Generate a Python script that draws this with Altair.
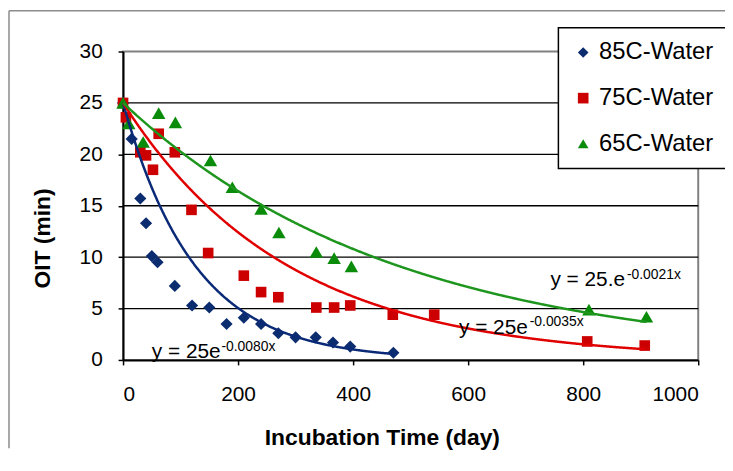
import altair as alt
import pandas as pd

# ---- data ----
series_names = ["85C-Water", "75C-Water", "65C-Water"]
marker_colors = ["#0c2c70", "#cc0000", "#0a8c0a"]
line_colors = ["#0a2a78", "#e00000", "#1e961e"]
marker_shapes = ["diamond", "square", "triangle-up"]
marker_sizes = [150, 115, 185]

days_85 = [0, 15, 30, 40, 50, 60, 90, 120, 150, 180, 210, 240, 270, 300, 335, 365, 395, 470]
oit_85 = [25.0, 21.5, 15.7, 13.3, 10.1, 9.5, 7.2, 5.3, 5.1, 3.5, 4.1, 3.5, 2.6, 2.2, 2.2, 1.7, 1.3, 0.7]

days_75 = [0, 5, 30, 40, 52, 62, 90, 119, 148, 210, 240, 270, 336, 367, 395, 469, 541, 807, 907]
oit_75 = [25.0, 23.6, 20.2, 19.9, 18.5, 22.0, 20.2, 14.6, 10.4, 8.2, 6.6, 6.1, 5.1, 5.1, 5.3, 4.4, 4.4, 1.8, 1.4]

days_65 = [0, 10, 35, 62, 91, 152, 190, 240, 271, 336, 367, 397, 810, 910]
oit_65 = [25.0, 23.0, 21.2, 24.0, 23.1, 19.4, 16.8, 14.7, 12.4, 10.5, 9.9, 9.1, 4.9, 4.2]

# exponential trendlines y = a * e^(-k x), as printed on the chart
fit_a = [25, 25, 25]
fit_k = [0.0080, 0.0035, 0.0021]
fit_end = [470, 907, 910]
eq_main = ["y = 25e", "y = 25e", "y = 25.e"]
eq_exp = ["-0.0080x", "-0.0035x", "-0.0021x"]

x_ticks = [0, 200, 400, 600, 800, 1000]
y_ticks = [0, 5, 10, 15, 20, 25, 30]
grid_values = [5, 10, 15, 20, 25]

FONT = "Liberation Sans"

# ---- tables ----
series_days = [days_85, days_75, days_65]
series_oit = [oit_85, oit_75, oit_65]
grid_df = pd.DataFrame({"oit": grid_values})

xscale = alt.Scale(domain=[0, 1000], nice=False)
yscale = alt.Scale(domain=[0, 30], nice=False)
xaxis = alt.Axis(values=x_ticks, format="d", title="Incubation Time (day)", titleX=261, titleY=85,
                 titleBaseline="alphabetic", labelPadding=19)
yaxis = alt.Axis(values=y_ticks, format="d", title="OIT (min)", titleX=-81, titleY=188, titleAngle=270,
                 titleAlign="center", titleBaseline="middle", labelPadding=16)
color_scale = alt.Scale(domain=series_names, range=marker_colors)
shape_scale = alt.Scale(domain=series_names, range=marker_shapes)


def X():
    return alt.X("day:Q", scale=xscale, axis=xaxis)


def Y():
    return alt.Y("oit:Q", scale=yscale, axis=yaxis)


layers = []

# outer chart-area frame (left and top edges are visible)
dummy = pd.DataFrame({"a": [0]})
layers.append(alt.Chart(dummy).mark_rule(color="#8c8c8c", strokeWidth=1.5).encode(
    x=alt.value(-115), y=alt.value(-41), y2=alt.value(400)))
layers.append(alt.Chart(dummy).mark_rule(color="#8c8c8c", strokeWidth=1.5).encode(
    x=alt.value(-115), x2=alt.value(620), y=alt.value(-41)))

# horizontal gridlines
layers.append(alt.Chart(grid_df).mark_rule(color="black", strokeWidth=1.3).encode(y=Y()))

# markers (one layer per series so each keeps its own marker size)
for i in range(3):
    df = pd.DataFrame({"series": [series_names[i]] * len(series_days[i]),
                       "day": series_days[i], "oit": series_oit[i]})
    layers.append(alt.Chart(df).mark_point(filled=True, opacity=1, strokeWidth=0, size=marker_sizes[i]).encode(
        x=X(), y=Y(),
        color=alt.Color("series:N", scale=color_scale, title=None),
        shape=alt.Shape("series:N", scale=shape_scale, title=None),
    ))

# trendlines
for i in range(3):
    layers.append(
        alt.Chart(alt.sequence(0, fit_end[i] + 1, 1, as_="day"))
        .transform_calculate(oit=f"{fit_a[i]} * exp(-{fit_k[i]} * datum.day)")
        .mark_line(color=line_colors[i], strokeWidth=2.5)
        .encode(x=X(), y=Y())
    )

# equation labels (anchor in data units: main text, then exponent)
label_anchor = [((50, 0.2), (171, 0.9)), ((584, 2.5), (707, 3.3)), ((743, 7.15), (876, 7.92))]
for i in range(3):
    (mx, my), (ex, ey) = label_anchor[i]
    layers.append(alt.Chart(dummy).mark_text(text=eq_main[i], font=FONT, fontSize=21, align="left",
                                             baseline="alphabetic", color="black").encode(
        x=alt.datum(mx), y=alt.datum(my)))
    layers.append(alt.Chart(dummy).mark_text(text=eq_exp[i], font=FONT, fontSize=14, align="left",
                                             baseline="alphabetic", color="black").encode(
        x=alt.datum(ex), y=alt.datum(ey)))

chart = (
    alt.layer(*layers)
    .properties(width=580, height=311, autosize=alt.AutoSizeParams(type="none"),
                padding={"left": 116, "top": 42, "right": 27, "bottom": 99})
    .configure_view(stroke="#808080", strokeWidth=2)
    .configure_axis(labelFont=FONT, labelFontSize=21, labelColor="black", titleFont=FONT,
                    titleFontSize=23, titleFontWeight="bold", titleColor="black", domainColor="black",
                    domainWidth=2, tickColor="black", tickWidth=1.5, tickSize=5, grid=False)
    .configure_legend(orient="none", legendX=439, legendY=-24, fillColor="white", strokeColor="black",
                      strokeWidth=1.5, padding=13, symbolOffset=0, labelOffset=4, rowPadding=22,
                      labelFont=FONT, labelFontSize=24, labelColor="black", symbolSize=115,
                      symbolStrokeWidth=0)
)

chart.save("out.html", embed_options={"renderer": "svg", "actions": False})
